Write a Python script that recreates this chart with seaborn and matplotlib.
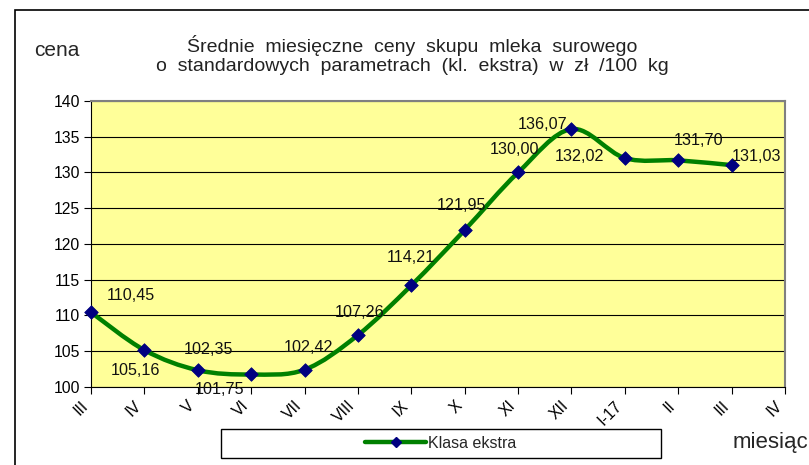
import matplotlib
matplotlib.use("Agg")
import matplotlib.pyplot as plt
import numpy as np
import seaborn as sns
from matplotlib.path import Path
from matplotlib.patches import PathPatch, Rectangle
from matplotlib.lines import Line2D

# data
months = ["III", "IV", "V", "VI", "VII", "VIII", "IX", "X", "XI", "XII", "I-17", "II", "III", "IV"]
prices = [110.45, 105.16, 102.35, 101.75, 102.42, 107.26, 114.21, 121.95,
          130.00, 136.07, 132.02, 131.70, 131.03]
price_labels = ["110,45", "105,16", "102,35", "101,75", "102,42", "107,26", "114,21",
                "121,95", "130,00", "136,07", "132,02", "131,70", "131,03"]
# label offsets in pixels (excel-style placement)
label_offsets = [(40, 17), (-9, -20), (11, 21), (-32, -15), (4, 22), (2, 23), (0, 28),
                 (-3, 25), (-4, 23), (-29, 5), (-45, 2), (20, 20), (25, 9)]

sns.set_style("white")
plt.rcParams["font.family"] = ["Liberation Sans", "DejaVu Sans"]

fig = plt.figure(figsize=(8.09, 4.65), dpi=100)
ax = fig.add_axes([91 / 809, 1 - 387 / 465, (785 - 91) / 809, (387 - 101) / 465])
ax.set_facecolor("#FFFF99")

xs = np.arange(len(prices))
ys = np.array(prices)

# smoothed line like excel (catmull-rom as bezier segments)
verts = [(xs[0], ys[0])]
codes = [Path.MOVETO]
n = len(xs)
for i in range(n - 1):
    p0 = np.array([xs[max(i - 1, 0)], ys[max(i - 1, 0)]])
    p1 = np.array([xs[i], ys[i]])
    p2 = np.array([xs[i + 1], ys[i + 1]])
    p3 = np.array([xs[min(i + 2, n - 1)], ys[min(i + 2, n - 1)]])
    c1 = p1 + (p2 - p0) / 6
    c2 = p2 - (p3 - p1) / 6
    verts += [tuple(c1), tuple(c2), tuple(p2)]
    codes += [Path.CURVE4] * 3
ax.add_patch(PathPatch(Path(verts, codes), facecolor="none", edgecolor="#008000",
                       lw=3.2, zorder=3, capstyle="round", joinstyle="round"))

sns.scatterplot(x=xs, y=ys, marker="D", s=48, color="#000080", edgecolor="#000080",
                zorder=4, ax=ax, clip_on=False)

for x, y, lab, off in zip(xs, ys, price_labels, label_offsets):
    ax.annotate(lab, (x, y), xytext=off, textcoords="offset pixels",
                ha="center", va="center", fontsize=11.6, color="#111111", zorder=5)

ax.set_xlim(0, len(months) - 1)
ax.set_ylim(100, 140)
ax.set_yticks(range(100, 141, 5))
ax.set_xticks(range(len(months)))
ax.set_xticklabels(months, rotation=45, ha="right", va="top")
ax.tick_params(axis="both", direction="out", length=5, width=0.8, colors="black",
               labelsize=11.3, bottom=True, left=True)
ax.tick_params(axis="x", pad=3)
ax.tick_params(axis="y", pad=3)
ax.grid(axis="y", color="black", lw=0.8)
ax.grid(axis="x", visible=False)
for side in ["top", "right"]:
    ax.spines[side].set_color("#808080")
    ax.spines[side].set_linewidth(1.5)
for side in ["left", "bottom"]:
    ax.spines[side].set_color("black")
    ax.spines[side].set_linewidth(0.8)
ax.set_xlabel("")
ax.set_ylabel("")

fig.text(412 / 809, 1 - 55 / 465, "Średnie  miesięczne  ceny  skupu  mleka  surowego\n"
         "o  standardowych  parametrach  (kl.  ekstra)  w  zł  /100  kg",
         ha="center", va="center", fontsize=14, color="#222222", linespacing=1.12)
fig.text(57 / 809, 1 - 51 / 465, "cena", ha="center", va="center", fontsize=15)
fig.text(733 / 809, 1 - 442 / 465, "miesiąc", ha="left", va="center", fontsize=16)

# outer chart frame (runs off the image)
fig.patches.append(Rectangle((15 / 809, -0.1), 1.2, 1 - 10 / 465 + 0.1,
                             transform=fig.transFigure, fill=False,
                             edgecolor="black", lw=1.2))
# legend box
fig.patches.append(Rectangle((221 / 809, 1 - 458 / 465), 440 / 809, 29 / 465,
                             transform=fig.transFigure, fill=True, facecolor="white",
                             edgecolor="black", lw=1.0))
handle = Line2D([], [], color="#008000", lw=3.2, marker="D", markersize=5,
                markerfacecolor="#000080", markeredgecolor="#000080")
fig.legend([handle], ["Klasa ekstra"], loc="center", bbox_to_anchor=(441 / 809, 1 - 443 / 465),
           frameon=False, fontsize=11.5, handlelength=3.8, handletextpad=0.15)

fig.savefig("out.png", dpi=100)
